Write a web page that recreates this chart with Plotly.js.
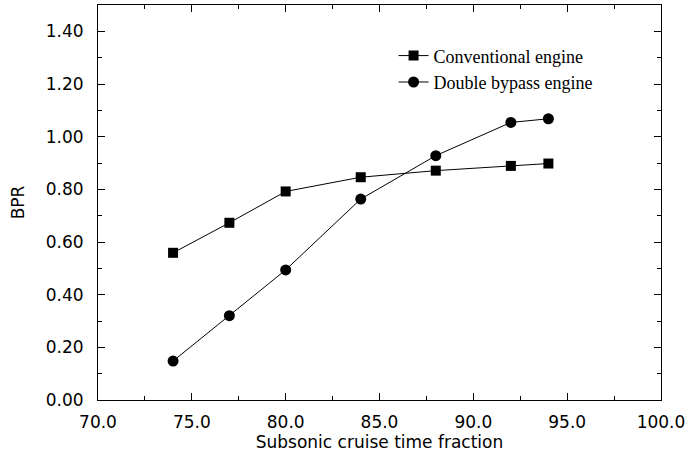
<!DOCTYPE html>
<html>
<head>
<meta charset="utf-8">
<script src="https://cdn.plot.ly/plotly-3.0.1.min.js"></script>
<style>html,body{margin:0;padding:0;background:#fff;}#chart{width:688px;height:453px;}</style>
</head>
<body>
<div id="chart"></div>
<script>
var cruiseFraction = [74, 77, 80, 84, 88, 92, 94];
var conventionalBPR = [0.559, 0.673, 0.792, 0.846, 0.871, 0.889, 0.898];
var doubleBypassBPR = [0.148, 0.320, 0.494, 0.763, 0.928, 1.054, 1.068];
var seriesNames = ["Conventional engine", "Double bypass engine"];

var traces = [
  {x: cruiseFraction, y: conventionalBPR, name: seriesNames[0], type: 'scatter', mode: 'lines+markers',
   line: {color: '#000', width: 1}, marker: {symbol: 'square', size: 10, color: '#000'}},
  {x: cruiseFraction, y: doubleBypassBPR, name: seriesNames[1], type: 'scatter', mode: 'lines+markers',
   line: {color: '#000', width: 1}, marker: {symbol: 'circle', size: 11, color: '#000'}}
];

var axisFont = {family: 'DejaVu Sans, Arial, sans-serif', size: 17, color: '#000'};
var layout = {
  width: 688, height: 453,
  margin: {l: 98, r: 27, t: 5, b: 53, pad: 0},
  paper_bgcolor: '#fff', plot_bgcolor: '#fff',
  showlegend: true,
  legend: {x: 0.525, y: 0.918, xanchor: 'left', yanchor: 'top', bgcolor: 'rgba(0,0,0,0)', tracegroupgap: 0,
           font: {family: 'Liberation Serif, Times New Roman, serif', size: 18, color: '#000'}},
  xaxis: {
    range: [70, 100], dtick: 5, tick0: 70, tickformat: '.1f',
    showline: true, linecolor: '#000', linewidth: 1, mirror: 'allticks',
    ticks: 'inside', ticklen: 7, tickcolor: '#000', tickwidth: 1,
    minor: {dtick: 2.5, ticks: 'inside', ticklen: 4, tickcolor: '#000', tickwidth: 1, showgrid: false},
    showgrid: false, zeroline: false, tickfont: axisFont, ticklabelstandoff: 7,
    title: {text: 'Subsonic cruise time fraction', font: axisFont, standoff: 2}
  },
  yaxis: {
    range: [0, 1.5], dtick: 0.2, tick0: 0, tickformat: '.2f',
    showline: true, linecolor: '#000', linewidth: 1, mirror: 'allticks',
    ticks: 'inside', ticklen: 7, tickcolor: '#000', tickwidth: 1,
    minor: {dtick: 0.1, ticks: 'inside', ticklen: 4, tickcolor: '#000', tickwidth: 1, showgrid: false},
    showgrid: false, zeroline: false, tickfont: axisFont, ticklabelstandoff: 10,
    title: {text: 'BPR', font: axisFont, standoff: 16}
  }
};

Plotly.newPlot('chart', traces, layout, {displayModeBar: false, staticPlot: true});
</script>
</body>
</html>
